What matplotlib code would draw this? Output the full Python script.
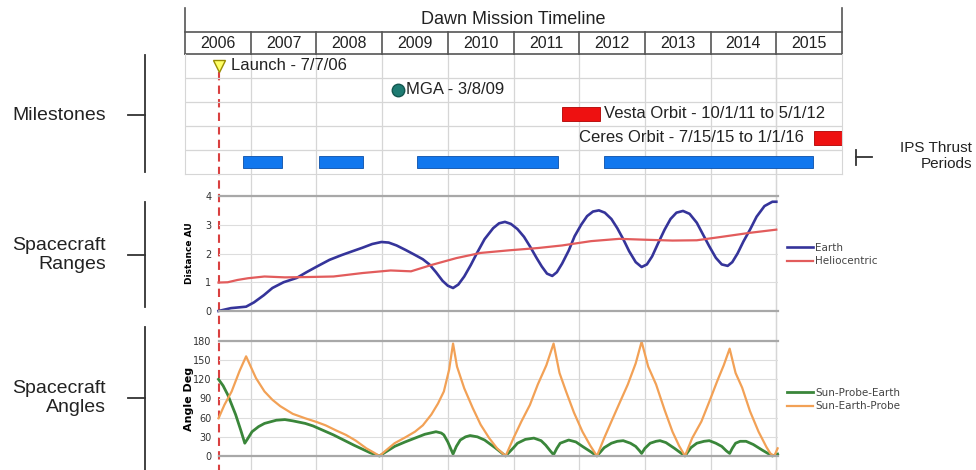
import matplotlib
matplotlib.use("Agg")
import matplotlib.pyplot as plt

# ---- data ----
years = [2006, 2007, 2008, 2009, 2010, 2011, 2012, 2013, 2014, 2015]

launch_date = 2006.51
mga_date = 2009.24
vesta = (2011.74, 2012.32)
ceres = (2015.57, 2016.0)
ips_start = [2006.88, 2008.04, 2009.53, 2012.38]
ips_end = [2007.48, 2008.71, 2011.68, 2015.56]

earth_t = [2006.51, 2006.70, 2006.93, 2007.05, 2007.20, 2007.33, 2007.50, 2007.70, 2007.85, 2008.01,
           2008.20, 2008.39, 2008.55, 2008.70, 2008.85, 2008.99, 2009.10, 2009.22, 2009.36, 2009.50,
           2009.62, 2009.72, 2009.82, 2009.92, 2010.00, 2010.08, 2010.16, 2010.25, 2010.35, 2010.44,
           2010.56, 2010.69, 2010.78, 2010.87, 2010.96, 2011.06, 2011.16, 2011.25, 2011.35, 2011.43,
           2011.51, 2011.59, 2011.66, 2011.74, 2011.84, 2011.93, 2012.03, 2012.12, 2012.21, 2012.30,
           2012.39, 2012.49, 2012.58, 2012.67, 2012.76, 2012.86, 2012.95, 2013.03, 2013.11, 2013.20,
           2013.30, 2013.39, 2013.48, 2013.58, 2013.68, 2013.79, 2013.88, 2013.98, 2014.08, 2014.17,
           2014.26, 2014.33, 2014.41, 2014.50, 2014.60, 2014.70, 2014.82, 2014.94, 2015.00]
earth_au = [0.00, 0.10, 0.15, 0.30, 0.55, 0.80, 1.00, 1.15, 1.35, 1.55,
            1.78, 1.95, 2.08, 2.20, 2.33, 2.40, 2.38, 2.28, 2.12, 1.95,
            1.80, 1.62, 1.35, 1.05, 0.88, 0.80, 0.92, 1.20, 1.60, 2.00,
            2.50, 2.88, 3.05, 3.10, 3.03, 2.85, 2.58, 2.25, 1.85, 1.55,
            1.30, 1.22, 1.35, 1.65, 2.10, 2.60, 3.00, 3.30, 3.46, 3.50,
            3.42, 3.20, 2.88, 2.50, 2.08, 1.70, 1.53, 1.62, 1.90, 2.35,
            2.83, 3.20, 3.42, 3.48, 3.38, 3.07, 2.68, 2.25, 1.85, 1.62,
            1.57, 1.70, 2.00, 2.42, 2.83, 3.28, 3.65, 3.80, 3.80]

helio_t = [2006.51, 2006.65, 2006.80, 2006.96, 2007.21, 2007.52, 2007.83, 2008.26, 2008.70, 2009.13,
           2009.44, 2009.75, 2010.13, 2010.50, 2010.93, 2011.37, 2011.74, 2012.18, 2012.61, 2012.99,
           2013.42, 2013.79, 2014.17, 2014.60, 2015.00]
helio_au = [0.99, 1.00, 1.08, 1.14, 1.20, 1.17, 1.18, 1.20, 1.32, 1.41,
            1.38, 1.60, 1.84, 2.02, 2.11, 2.19, 2.28, 2.43, 2.51, 2.48,
            2.45, 2.46, 2.58, 2.72, 2.83]

sep_t = [2006.51, 2006.60, 2006.71, 2006.83, 2006.93, 2007.00, 2007.08, 2007.21, 2007.33, 2007.45,
         2007.64, 2007.83, 2008.01, 2008.14, 2008.30, 2008.45, 2008.60, 2008.76, 2008.88, 2008.96,
         2009.05, 2009.19, 2009.35, 2009.50, 2009.62, 2009.75, 2009.85, 2009.94, 2010.02, 2010.08,
         2010.14, 2010.25, 2010.38, 2010.50, 2010.63, 2010.75, 2010.88, 2011.00, 2011.12, 2011.25,
         2011.37, 2011.50, 2011.61, 2011.70, 2011.80, 2011.92, 2012.05, 2012.17, 2012.27, 2012.38,
         2012.49, 2012.61, 2012.74, 2012.86, 2012.95, 2013.05, 2013.17, 2013.30, 2013.42, 2013.52,
         2013.61, 2013.72, 2013.86, 2013.98, 2014.10, 2014.20, 2014.29, 2014.38, 2014.48, 2014.60,
         2014.73, 2014.85, 2014.91, 2014.97, 2015.02]
sep_deg = [59, 80, 101, 133, 156, 140, 122, 101, 88, 78,
           66, 59, 53, 48, 40, 33, 24, 12, 5, 0,
           8, 20, 29, 38, 48, 65, 82, 101, 135, 176,
           140, 106, 75, 49, 28, 12, 0, 28, 54, 80,
           112, 142, 176, 130, 101, 68, 38, 16, 0, 28,
           54, 82, 112, 145, 179, 140, 112, 72, 38, 16,
           0, 28, 54, 85, 117, 142, 168, 130, 107, 70,
           38, 14, 4, 0, 12]

spe_t = [2006.51, 2006.58, 2006.65, 2006.77, 2006.85, 2006.91, 2006.96, 2007.02, 2007.12, 2007.21,
         2007.39, 2007.52, 2007.64, 2007.83, 2007.95, 2008.26, 2008.57, 2008.82, 2008.96, 2009.05,
         2009.19, 2009.35, 2009.50, 2009.65, 2009.82, 2009.90, 2009.94, 2010.00, 2010.08, 2010.13,
         2010.19, 2010.27, 2010.34, 2010.45, 2010.56, 2010.72, 2010.88, 2011.00, 2011.06, 2011.18,
         2011.31, 2011.42, 2011.49, 2011.56, 2011.61, 2011.66, 2011.71, 2011.84, 2011.95, 2012.05,
         2012.17, 2012.27, 2012.38, 2012.49, 2012.58, 2012.67, 2012.78, 2012.86, 2012.92, 2012.95,
         2013.00, 2013.08, 2013.17, 2013.23, 2013.32, 2013.45, 2013.61, 2013.70, 2013.79, 2013.90,
         2013.98, 2014.08, 2014.17, 2014.24, 2014.29, 2014.33, 2014.38, 2014.45, 2014.54, 2014.65,
         2014.79, 2014.94, 2015.02]
spe_deg = [120, 110, 96, 65, 40, 20, 28, 38, 46, 51,
           56, 57, 55, 51, 47, 33, 17, 5, 0, 6,
           15, 22, 28, 34, 38, 36, 33, 22, 3, 15,
           25, 30, 32, 30, 25, 13, 0, 13, 20, 26,
           28, 24, 17, 8, 2, 12, 20, 25, 22, 15,
           7, 0, 13, 20, 23, 24, 20, 15, 8, 4,
           12, 20, 23, 24, 21, 12, 0, 13, 20, 23,
           24, 20, 15, 8, 4, 12, 20, 23, 23, 18,
           9, 0, 3]

W, H = 976, 470
fig = plt.figure(figsize=(W / 100, H / 100), dpi=100)
fig.patch.set_facecolor("white")


def px_axes(left, top, right, bottom, **kw):
    return fig.add_axes([left / W, 1 - bottom / H, (right - left) / W, (bottom - top) / H], **kw)


def yr_px(y):
    return 185 + (y - 2006) * 65.7


LINE = "#555555"
GRID = "#D6D6D6"
TXT = "Liberation Sans"
MS_FS = 12

# background: vertical year lines that run through every panel, plus launch line
bg = px_axes(185, 54, 842, 470, facecolor="none")
bg.set_xlim(2006, 2016)
bg.set_ylim(470, 54)
bg.axis("off")
for yr in years[1:] + [2015]:
    bg.plot([yr, yr], [54, 470], color=GRID, lw=0.9, zorder=0)
bg.plot([launch_date, launch_date], [72, 470], color="#D94040", lw=1.5,
        ls=(0, (4, 2.5)), zorder=5, clip_on=False)

# header table
hdr = px_axes(185, 8, 842, 54, facecolor="none")
hdr.set_xlim(2006, 2016)
hdr.set_ylim(0, 1)
hdr.axis("off")
for x in (2006, 2016):
    hdr.plot([x, x], [0, 1], color=LINE, lw=1.2, clip_on=False)
hdr.plot([2006, 2016], [0, 0], color=LINE, lw=1.2, clip_on=False)
hdr.plot([2006, 2016], [0.478, 0.478], color=LINE, lw=1.2, clip_on=False)
for yr in years[1:]:
    hdr.plot([yr, yr], [0, 0.478], color=LINE, lw=1.2, clip_on=False)
for yr in years:
    hdr.text(yr + 0.5, 0.23, str(yr), ha="center", va="center", fontsize=11.5,
             family=TXT, color="#222222")
hdr.text(2011, 0.74, "Dawn Mission Timeline", ha="center", va="center",
         fontsize=13, family=TXT, color="#222222")

# milestones
ms = px_axes(185, 54, 842, 174, facecolor="none")
ms.set_xlim(2006, 2016)
ms.set_ylim(5, 0)
ms.set_xticks([])
ms.set_yticks([])
for r in range(1, 5):
    ms.axhline(r, color=GRID, lw=0.9, zorder=0)
for s in ("left", "right", "bottom"):
    ms.spines[s].set_color(GRID)
ms.spines["top"].set_visible(False)

ms.plot(launch_date, 0.5, marker="v", ms=9, mfc="#FFFF66", mec="#9A8C00", mew=1, zorder=6)
ms.annotate("Launch - 7/7/06", (launch_date, 0.5), xytext=(9, 0), textcoords="offset points",
            va="center", fontsize=MS_FS, family=TXT, color="#222222")
ms.plot(mga_date, 1.5, marker="o", ms=9, mfc="#1E7B72", mec="#13564F", zorder=6)
ms.annotate("MGA - 3/8/09", (mga_date, 1.5), xytext=(6, 0), textcoords="offset points",
            va="center", fontsize=MS_FS, family=TXT, color="#222222")
ms.barh(2.5, vesta[1] - vesta[0], left=vesta[0], height=0.55, color="#EE1111",
        edgecolor="#B00000", lw=0.6)
ms.annotate("Vesta Orbit - 10/1/11 to 5/1/12", (vesta[1], 2.5), xytext=(3, 0),
            textcoords="offset points", va="center", fontsize=MS_FS, family=TXT, color="#222222")
ms.barh(3.5, ceres[1] - ceres[0], left=ceres[0], height=0.55, color="#EE1111",
        edgecolor="#B00000", lw=0.6)
ms.annotate("Ceres Orbit - 7/15/15 to 1/1/16", (ceres[0], 3.5), xytext=(-7, 0),
            textcoords="offset points", ha="right", va="center", fontsize=MS_FS,
            family=TXT, color="#222222")
ms.barh([4.5] * len(ips_start), [e - s for s, e in zip(ips_start, ips_end)], left=ips_start,
        height=0.5, color="#1177EE", edgecolor="#0B4FA8", lw=0.6)


def data_axes(top, bottom, ylim, ticks):
    ax = px_axes(yr_px(2006.51), top, yr_px(2015.02), bottom, facecolor="none")
    ax.set_xlim(2006.51, 2015.02)
    ax.set_ylim(*ylim)
    ax.set_yticks(ticks)
    ax.set_xticks([])
    ax.grid(axis="y", color="#DDDDDD", lw=0.8)
    ax.set_axisbelow(True)
    for s in ("left", "right"):
        ax.spines[s].set_visible(False)
    for s in ("top", "bottom"):
        ax.spines[s].set_color("#A8A8A8")
        ax.spines[s].set_linewidth(1.6)
    ax.tick_params(axis="y", length=0, labelsize=7, labelcolor="#333333", pad=5)
    return ax


rng = data_axes(196, 311, (0, 4), [0, 1, 2, 3, 4])
rng.plot(earth_t, earth_au, color="#35349A", lw=1.9, label="Earth", clip_on=False)
rng.plot(helio_t, helio_au, color="#E25C5C", lw=1.6, label="Heliocentric", clip_on=False)
rng.set_ylabel("Distance AU", fontsize=6.5, fontweight="bold")
rng.yaxis.set_label_coords(-0.043, 0.5)
rng.legend(loc="center left", bbox_to_anchor=(787 / W, 1 - 254.5 / H),
           bbox_transform=fig.transFigure, frameon=False, fontsize=7.5, handlelength=2.5,
           handletextpad=0.2, labelspacing=0.35, borderpad=0, borderaxespad=0,
           labelcolor="#444444")

ang = data_axes(341, 456, (0, 180), [0, 30, 60, 90, 120, 150, 180])
ang.plot(spe_t, spe_deg, color="#3A863A", lw=2.0, label="Sun-Probe-Earth", clip_on=False)
ang.plot(sep_t, sep_deg, color="#F2A156", lw=1.6, label="Sun-Earth-Probe", clip_on=False)
ang.set_ylabel("Angle Deg", fontsize=8, fontweight="bold")
ang.yaxis.set_label_coords(-0.043, 0.5)
ang.legend(loc="center left", bbox_to_anchor=(787 / W, 1 - 399.5 / H),
           bbox_transform=fig.transFigure, frameon=False, fontsize=7.5, handlelength=2.5,
           handletextpad=0.2, labelspacing=0.35, borderpad=0, borderaxespad=0,
           labelcolor="#444444")

# left section labels and brackets
ov = px_axes(0, 0, W, H, facecolor="none")
ov.set_xlim(0, W)
ov.set_ylim(H, 0)
ov.axis("off")
for top, bot, mid, label in [(55, 172, 115, "Milestones"),
                             (202, 307, 255, "Spacecraft\nRanges"),
                             (327, 470, 398, "Spacecraft\nAngles")]:
    ov.plot([145, 145], [top, bot], color="#333333", lw=1.3)
    ov.plot([128, 145], [mid, mid], color="#333333", lw=1.3)
    ov.text(106, mid, label, ha="right", va="center", fontsize=14, family=TXT,
            color="#222222", linespacing=1.15)

ov.plot([856, 856], [150, 165], color="#333333", lw=1.3)
ov.plot([856, 872], [157, 157], color="#333333", lw=1.3)
ov.text(972, 156, "IPS Thrust\nPeriods", ha="right", va="center", fontsize=11,
        family=TXT, color="#222222", linespacing=1.1)

fig.savefig("out.png", dpi=100)
